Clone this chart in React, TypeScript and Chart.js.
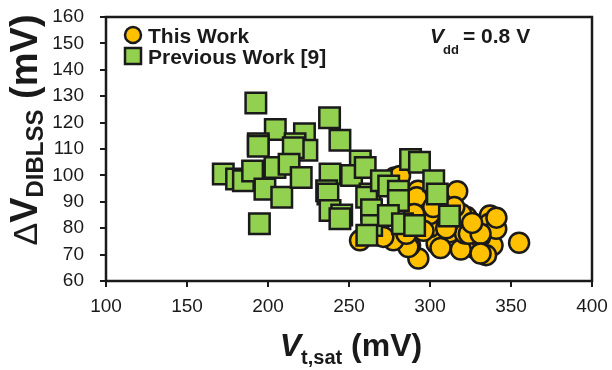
import React, { useEffect, useRef } from "react";
import { Chart, registerables } from "chart.js";

Chart.register(...registerables);

// This Work (yellow circles)
const thisWorkX = [316.8, 355, 337, 336.6, 338.6, 334.6, 327.8, 319, 312.3, 321.6, 304.1, 306.5, 292.8, 287.7, 286.6, 277.4, 271.2, 256.8, 278.2, 292.6, 293.8, 291.7, 322.6, 308, 330.9, 340.9, 324, 299.9, 299.9, 290.2, 285.4, 319.2, 331.2, 331.2, 281.5, 296, 310, 302, 315, 326, 341];
const thisWorkY = [94, 74.5, 84.8, 81.7, 73.5, 69.8, 72.4, 71.9, 78.5, 78, 74.2, 72.5, 68.5, 73.5, 72.9, 75.4, 76.7, 75.4, 99.2, 94.2, 90.4, 91.7, 84.2, 84.2, 76.7, 79.8, 77.9, 80.4, 85.4, 85.4, 77.9, 85.4, 77.9, 70.4, 99.8, 79, 80, 88, 88, 82, 84];

// Previous Work [9] (green squares)
const prevWorkX = [192.5, 238, 204.5, 222.5, 194, 216.7, 224, 244.4, 194, 215.6, 257, 288, 293.5, 172.4, 180.6, 184.8, 190.5, 204.3, 213, 198.1, 208.5, 220.5, 194.7, 238.3, 236.2, 237, 238.3, 245.5, 244.4, 251.6, 260, 263, 260.9, 263.9, 264, 261, 270, 274.5, 280.5, 280.5, 274.3, 283, 290.5, 302.3, 304.5, 312];
const prevWorkY = [127.4, 121.8, 117.4, 115.8, 112, 112, 109.5, 113.3, 111, 110.5, 105.5, 106, 105, 100.5, 98.6, 98, 101.7, 103, 104.2, 94.8, 91.7, 99.2, 81.7, 100.5, 94.2, 93, 86.7, 85, 83.6, 100, 103, 93, 91.7, 87, 81, 77.3, 98, 96, 94, 90.5, 84.8, 81.7, 81, 98, 93, 84.6];

const seriesLabels = ["This Work", "Previous Work [9]"];
const xTicks = [100, 150, 200, 250, 300, 350, 400];
const yTicks = [60, 70, 80, 90, 100, 110, 120, 130, 140, 150, 160];

const YELLOW = "#FFC000";
const GREEN = "#92D050";
const EDGE = "#1a1a1a";
const FONT = '"Liberation Sans", Arial, sans-serif';

const overlay = {
  id: "overlay",
  afterDraw(chart: any) {
    const ctx = chart.ctx as CanvasRenderingContext2D;
    const a = chart.chartArea;
    ctx.save();
    // frame
    ctx.strokeStyle = EDGE;
    ctx.lineWidth = 2.5;
    ctx.strokeRect(a.left, a.top, a.right - a.left, a.bottom - a.top);

    // legend
    ctx.lineWidth = 2.5;
    ctx.fillStyle = YELLOW;
    ctx.beginPath();
    ctx.arc(133, 35, 8, 0, Math.PI * 2);
    ctx.fill();
    ctx.stroke();
    ctx.fillStyle = GREEN;
    ctx.beginPath();
    ctx.rect(125, 48, 16, 16);
    ctx.fill();
    ctx.stroke();
    ctx.fillStyle = "#1a1a1a";
    ctx.textBaseline = "alphabetic";
    ctx.textAlign = "left";
    ctx.font = `bold 21px ${FONT}`;
    ctx.fillText(seriesLabels[0], 148, 43);
    ctx.fillText(seriesLabels[1], 148, 64);

    // Vdd annotation
    ctx.font = `bold italic 21px ${FONT}`;
    ctx.fillText("V", 430, 43);
    ctx.font = `bold 13px ${FONT}`;
    ctx.fillText("dd", 443, 54);
    ctx.font = `bold 21px ${FONT}`;
    ctx.fillText("= 0.8 V", 463, 43);

    // x title
    const cx = (a.left + a.right) / 2 + 2;
    const parts: [string, string, number][] = [
      ["V", `bold italic 32px ${FONT}`, 0],
      ["t,sat", `bold 20px ${FONT}`, 8],
      [" (mV)", `bold 32px ${FONT}`, 0],
    ];
    let total = 0;
    for (const p of parts) { ctx.font = p[1]; total += ctx.measureText(p[0]).width; }
    let x = cx - total / 2;
    for (const p of parts) {
      ctx.font = p[1];
      ctx.fillText(p[0], x, 356 + p[2]);
      x += ctx.measureText(p[0]).width;
    }

    // y title
    const yparts: [string, string, number][] = [
      ["\u0394", `34px ${FONT}`, 0],
      ["V", `bold 38px ${FONT}`, 0],
      ["DIBLSS", `bold 24px ${FONT}`, 6],
      [" (mV)", `bold 38px ${FONT}`, 0],
    ];
    ctx.translate(37, 130);
    ctx.rotate(-Math.PI / 2);
    total = 0;
    for (const p of yparts) { ctx.font = p[1]; total += ctx.measureText(p[0]).width; }
    x = -total / 2;
    for (const p of yparts) {
      ctx.font = p[1];
      ctx.fillText(p[0], x, p[2]);
      x += ctx.measureText(p[0]).width;
    }
    ctx.restore();
  },
};

export default function App() {
  const ref = useRef<HTMLCanvasElement>(null);
  useEffect(() => {
    if (!ref.current) return;
    const chart = new Chart(ref.current, {
      type: "scatter",
      data: {
        datasets: [
          {
            label: seriesLabels[0],
            data: thisWorkX.map((v, i) => ({ x: v, y: thisWorkY[i] })),
            pointStyle: "circle",
            pointRadius: 10,
            pointHoverRadius: 10,
            backgroundColor: YELLOW,
            borderColor: EDGE,
            borderWidth: 2.5,
            order: 2,
          },
          {
            label: seriesLabels[1],
            data: prevWorkX.map((v, i) => ({ x: v, y: prevWorkY[i] })),
            pointStyle: "rect",
            pointRadius: 14.5,
            pointHoverRadius: 14.5,
            backgroundColor: GREEN,
            borderColor: EDGE,
            borderWidth: 2.5,
            order: 1,
          },
        ],
      },
      options: {
        responsive: false,
        animation: false,
        events: [],
        layout: { padding: { left: 0, right: 20, top: 15, bottom: 0 } },
        plugins: { legend: { display: false }, tooltip: { enabled: false } },
        scales: {
          x: {
            type: "linear",
            min: xTicks[0],
            max: xTicks[xTicks.length - 1],
            afterBuildTicks: (s: any) => { s.ticks = xTicks.map((v) => ({ value: v })); },
            ticks: { color: "#1a1a1a", font: { family: FONT, size: 19 }, padding: 8, maxRotation: 0, autoSkip: false },
            grid: { drawOnChartArea: false, drawTicks: true, tickLength: 6, color: EDGE, lineWidth: 2 },
            border: { display: false },
            afterFit: (s: any) => { s.height = 89; s.paddingLeft = 0; s.paddingRight = 0; },
          },
          y: {
            type: "linear",
            min: yTicks[0],
            max: yTicks[yTicks.length - 1],
            afterBuildTicks: (s: any) => { s.ticks = yTicks.map((v) => ({ value: v })); },
            ticks: { color: "#1a1a1a", font: { family: FONT, size: 19 }, padding: 16, autoSkip: false },
            grid: { drawOnChartArea: false, drawTicks: true, tickLength: 6, color: EDGE, lineWidth: 2 },
            border: { display: false },
            afterFit: (s: any) => { s.width = 106; s.paddingTop = 0; s.paddingBottom = 0; },
          },
        },
      },
      plugins: [overlay],
    });
    return () => chart.destroy();
  }, []);
  return (
    <div style={{ position: "fixed", left: 0, top: 0, width: 612, height: 370, background: "#fff" }}>
      <canvas ref={ref} width={612} height={370} style={{ width: 612, height: 370 }} />
    </div>
  );
}
